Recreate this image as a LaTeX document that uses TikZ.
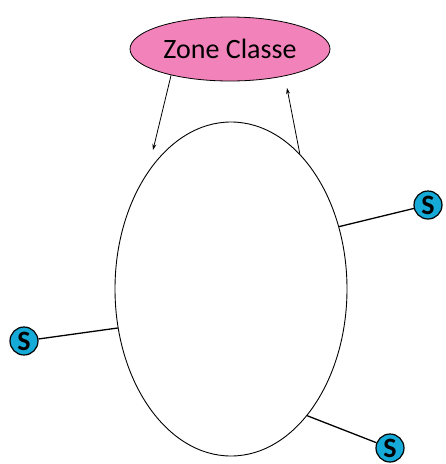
\documentclass[tikz,border=0pt]{standalone}
\usepackage{fontspec}
\setmainfont{Carlito}
\usetikzlibrary{shapes.geometric,arrows.meta}
\definecolor{zpink}{RGB}{242,130,186}
\definecolor{scyan}{RGB}{22,170,216}
\tikzset{
  zone/.style={ellipse,draw=black,line width=0.8pt,fill=zpink,minimum width=200pt,minimum height=64pt,inner sep=0pt,font=\fontsize{28}{30}\selectfont},
  bigell/.style={ellipse,draw=black,line width=0.9pt,minimum width=232pt,minimum height=334pt,inner sep=0pt},
  sball/.style={circle,draw=black,line width=1.2pt,fill=scyan,minimum size=28pt,inner sep=0pt,font=\fontsize{28}{28}\selectfont\bfseries},
  link/.style={line width=1.3pt},
  arr/.style={line width=0.8pt,-{Stealth[length=6pt,width=4pt]}}
}
\begin{document}
\begin{tikzpicture}[x=1pt,y=-1pt]
\useasboundingbox (0,0) rectangle (446,464);
\node[zone] (zc) at (230,49) {Zone Classe};
\node[bigell] (big) at (231,289) {};
\node[sball] (s1) at (428,205) {S};
\node[sball] (s2) at (24,341) {S};
\node[sball] (s3) at (390,448) {S};
\coordinate (a1) at (153,150);
\coordinate (a2) at (287,88);
\draw[arr] (zc.204) -- (a1);
\draw[arr] (big.63.6) -- (a2);
\draw[link] (big.30) -- (s1);
\draw[link] (big.199) -- (s2);
\draw[link] (big.301.7) -- (s3);
\end{tikzpicture}
\end{document}
